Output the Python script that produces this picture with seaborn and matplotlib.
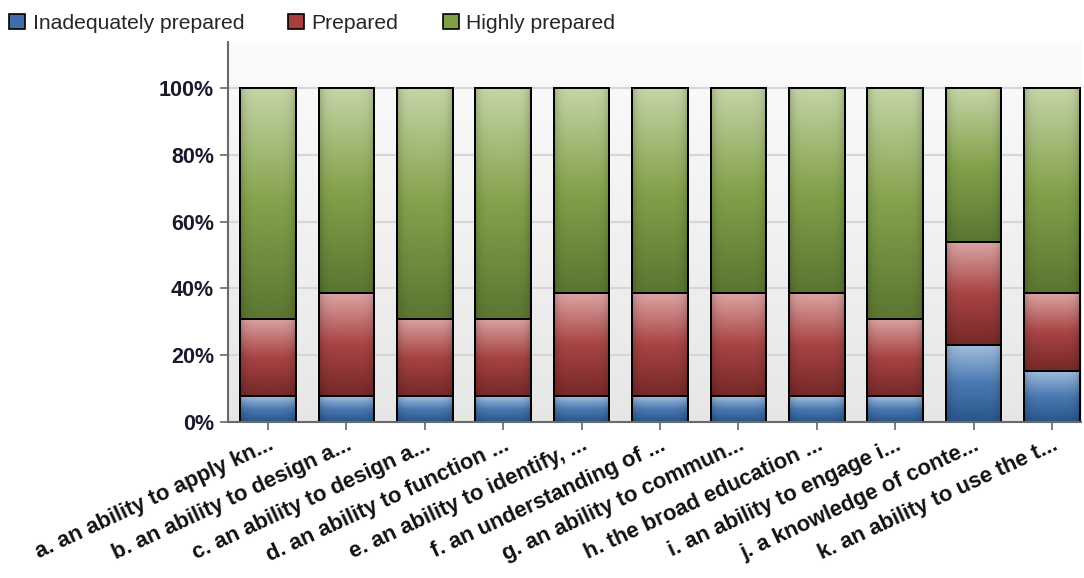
import numpy as np
import pandas as pd
import matplotlib
matplotlib.use("Agg")
import matplotlib.pyplot as plt
import seaborn as sns
from matplotlib.colors import LinearSegmentedColormap
from matplotlib.patches import Rectangle

categories = [
    "a. an ability to apply kn...",
    "b. an ability to design a...",
    "c. an ability to design a...",
    "d. an ability to function ...",
    "e. an ability to identify, ...",
    "f. an understanding of ...",
    "g. an ability to commun...",
    "h. the broad education ...",
    "i. an ability to engage i...",
    "j. a knowledge of conte...",
    "k. an ability to use the t...",
]
inadequate = [7.7, 7.7, 7.7, 7.7, 7.7, 7.7, 7.7, 7.7, 7.7, 23.1, 15.4]
prepared = [23.1, 30.8, 23.1, 23.1, 30.8, 30.8, 30.8, 30.8, 23.1, 30.8, 23.1]
highly = [69.2, 61.5, 69.2, 69.2, 61.5, 61.5, 61.5, 61.5, 69.2, 46.1, 61.5]
series_names = ["Inadequately prepared", "Prepared", "Highly prepared"]
yticks = [0, 20, 40, 60, 80, 100]

sns.set_theme(style="white")
plt.rcParams["font.family"] = ["Liberation Sans", "DejaVu Sans"]

fig = plt.figure(figsize=(10.84, 5.78), dpi=100)
ax = fig.add_axes([0.2103, 0.2699, 0.787, 0.6574])

base = [np.array(inadequate), np.array(inadequate) + np.array(prepared),
        np.array(inadequate) + np.array(prepared) + np.array(highly)]
bottoms = [np.zeros(len(categories)), base[0], base[1]]

grads = [
    ["#a3bedd", "#4a7ab2", "#2a558a"],
    ["#dba3a3", "#a84444", "#762828"],
    ["#c4d5a6", "#84a24c", "#5b7631"],
]
solid = ["#3f6fa8", "#a53f3f", "#7f9f45"]

bar_w = 0.71
layers = []
for k in [2, 1, 0]:
    d = pd.DataFrame({"cat": categories, "val": base[k]})
    n_before = len(ax.patches)
    sns.barplot(data=d, x="cat", y="val", color=solid[k], width=bar_w,
                edgecolor="black", linewidth=1.4, saturation=1, ax=ax,
                zorder=3 + (2 - k) * 2)
    layers.append((k, ax.patches[n_before:]))

for k, patches in layers:
    cmap = LinearSegmentedColormap.from_list("g%d" % k, grads[k][::-1])
    vert = np.linspace(1, 0, 100)
    horiz = np.linspace(0, 1, 40)
    shade = 1 - 0.18 * (np.abs(horiz - 0.5) * 2) ** 6
    for i, p in enumerate(patches):
        x0 = p.get_x()
        w = p.get_width()
        y0 = bottoms[k][i]
        y1 = base[k][i]
        rgba = cmap(vert)[:, None, :3] * shade[None, :, None]
        im = ax.imshow(rgba, extent=[x0, x0 + w, y0, y1], aspect="auto",
                       origin="upper", zorder=p.get_zorder() + 0.5,
                       interpolation="bilinear")
        im.set_clip_path(p)
        edge = Rectangle((x0, y0), w, y1 - y0, fill=False,
                         edgecolor="black", linewidth=1.4,
                         zorder=p.get_zorder() + 0.6)
        ax.add_patch(edge)

bg = np.linspace(0.985, 0.905, 100)[:, None] * np.ones((1, 2))
ax.imshow(np.dstack([bg, bg, bg]), extent=[0, 1, 0, 1], transform=ax.transAxes,
          aspect="auto", origin="upper", zorder=0)

ax.set_xlim(-0.51, 10.37)
ax.set_ylim(0, 113.8)
ax.set_yticks(yticks)
ax.set_yticklabels(["%d%%" % t for t in yticks], fontsize=15.5, fontweight="bold",
                   color="#1a1a2e")
for t in yticks:
    ax.axhline(t, color="#d6d6d6", lw=1.5, zorder=1)
ax.set_xticks(range(len(categories)))
ax.set_xticklabels(categories, rotation=25, ha="right", rotation_mode="anchor",
                   fontsize=15.8, fontweight="bold", color="#111111")
ax.tick_params(axis="both", which="both", length=6, width=1.2, color="#666666",
               direction="out", bottom=True, left=True, pad=4)
ax.tick_params(axis="x", pad=3)
ax.set_xlabel("")
ax.set_ylabel("")
for s in ["top", "right"]:
    ax.spines[s].set_visible(False)
for s in ["left", "bottom"]:
    ax.spines[s].set_color("#6a6a6a")
    ax.spines[s].set_linewidth(1.5)
    ax.spines[s].set_zorder(20)

handles = [Rectangle((0, 0), 1, 1, facecolor=solid[k], edgecolor="black", lw=1.2)
           for k in range(3)]
fig.legend(handles, series_names, loc="upper left", bbox_to_anchor=(-0.004, 1.0),
           ncol=3, frameon=False, fontsize=15.2, handlelength=0.75, handleheight=0.75,
           handletextpad=0.35, columnspacing=2.1, borderaxespad=0.25)

fig.savefig("out.png", dpi=100, facecolor="white")
